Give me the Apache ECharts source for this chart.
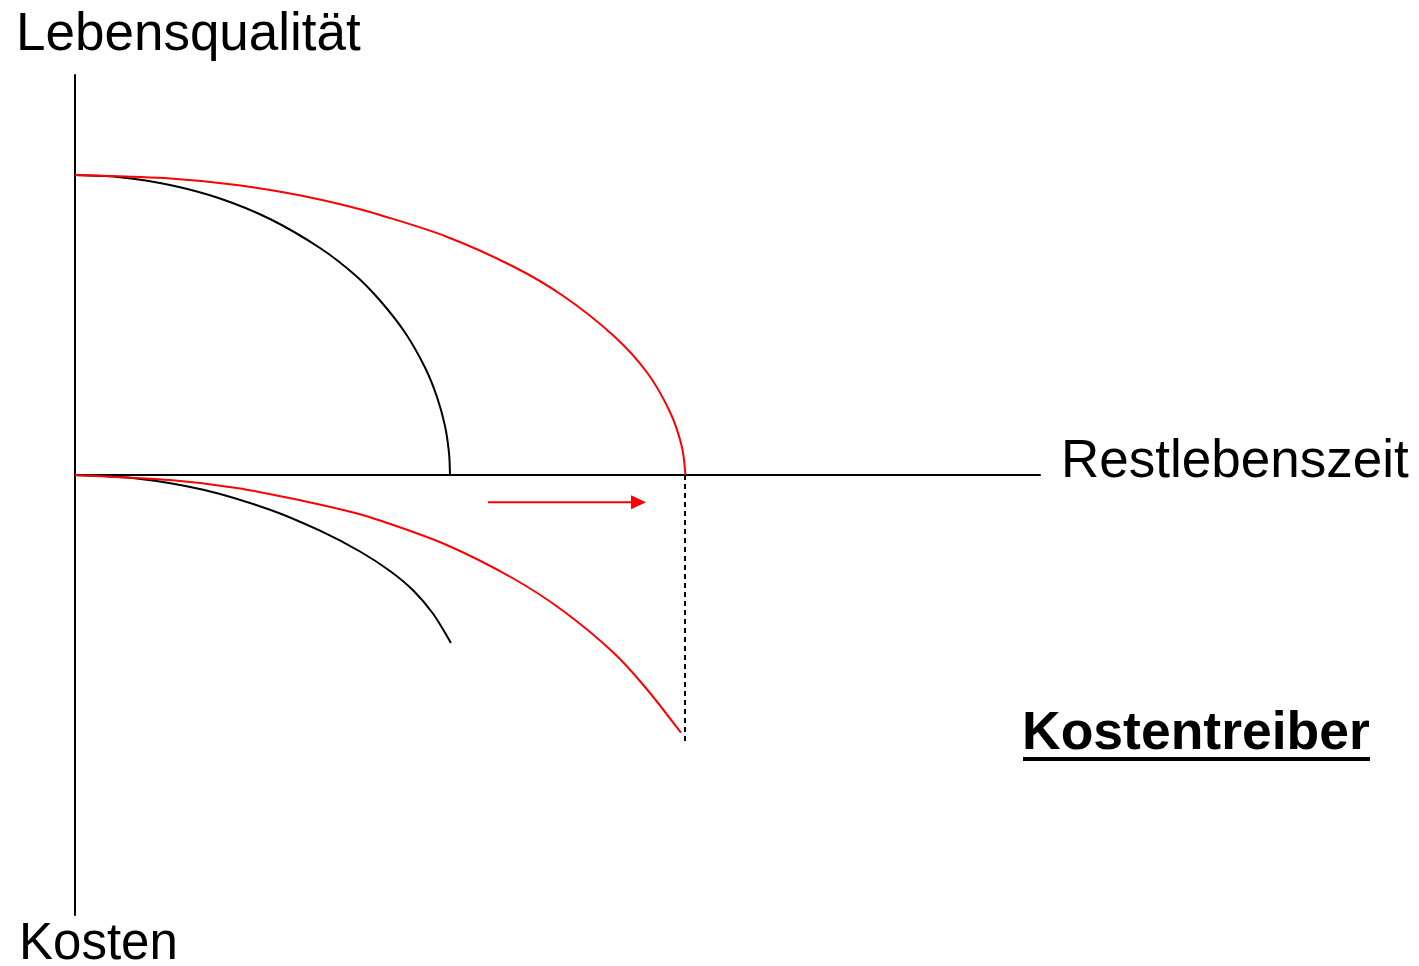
<!DOCTYPE html>
<html>
<head>
<meta charset="utf-8">
<script src="https://cdn.jsdelivr.net/npm/echarts@6/dist/echarts.min.js"></script>
<style>html,body{margin:0;padding:0;background:#fff;}#c{width:1419px;height:966px;}</style>
</head>
<body>
<div id="c"></div>
<script>
// Conceptual chart: x = Restlebenszeit, y>0 = Lebensqualität, y<0 = Kosten (arbitrary units)
const qualityBefore = [[0,300],[45,297.8],[95,290],[145,276.5],[195,256],[245,227],[280,200],[305,174.5],[330,142.5],[350,107.5],[362,78],[370,49],[374,22],[375,0]];
const qualityAfter = [[0,300],[95,296.5],[161.7,290],[228.3,279],[278.3,267.5],[305,260],[371.7,238.3],[438.3,208.5],[488.3,179],[538.3,139.5],[571.7,103],[595,63],[606.7,29],[610.5,0]];
const costBefore = [[0,0],[61.7,-3.4],[128.3,-14.7],[195,-34.7],[245,-55.7],[285,-76.5],[315,-96],[338.3,-115.5],[358.3,-139],[376,-168]];
const costAfter = [[0,0],[95,-5],[161.7,-13],[228.3,-26],[278.3,-37.5],[305,-45.5],[371.7,-70],[438.3,-103.5],[488.3,-136],[538.3,-177.5],[571.7,-214],[606,-257.7]];
const endMarker = [[610,0],[610,-268]];
const shiftArrow = [[413,-27.3],[563.5,-27.3]];
const axisNames = {y: 'Lebensqualität', x: 'Restlebenszeit', yNeg: 'Kosten', note: 'Kostentreiber'};

const chart = echarts.init(document.getElementById('c'));

// smooth curve through the data points (Catmull-Rom), positioned via the chart's own scales
function curveSeries(data, color) {
  return {
    type: 'custom', data: data, silent: true, z: 3,
    encode: {x: 0, y: 1},
    renderItem: function (params, api) {
      if (params.dataIndex !== 0) return null;
      const p = data.map(d => api.coord(d));
      const n = p.length;
      let d = 'M' + p[0][0] + ' ' + p[0][1];
      for (let i = 0; i < n - 1; i++) {
        const p0 = p[Math.max(i - 1, 0)], p1 = p[i], p2 = p[i + 1], p3 = p[Math.min(i + 2, n - 1)];
        const c1x = p1[0] + (p2[0] - p0[0]) / 6, c1y = p1[1] + (p2[1] - p0[1]) / 6;
        const c2x = p2[0] - (p3[0] - p1[0]) / 6, c2y = p2[1] - (p3[1] - p1[1]) / 6;
        d += ' C' + c1x + ' ' + c1y + ' ' + c2x + ' ' + c2y + ' ' + p2[0] + ' ' + p2[1];
      }
      return {type: 'path', shape: {pathData: d}, style: {stroke: color, lineWidth: 2, fill: null}};
    }
  };
}

chart.setOption({
  animation: false,
  backgroundColor: '#fff',
  grid: {left: 75, top: 75, width: 965, height: 840, containLabel: false},
  xAxis: {type: 'value', min: 0, max: 965,
    axisLine: {onZero: true, lineStyle: {color: '#000', width: 2}},
    axisTick: {show: false}, axisLabel: {show: false}, splitLine: {show: false}},
  yAxis: {type: 'value', min: -440, max: 400,
    axisLine: {show: true, onZero: true, lineStyle: {color: '#000', width: 2}},
    axisTick: {show: false}, axisLabel: {show: false}, splitLine: {show: false}},
  series: [
    curveSeries(qualityBefore, '#000'),
    curveSeries(qualityAfter, '#ff0000'),
    curveSeries(costBefore, '#000'),
    curveSeries(costAfter, '#ff0000'),
    {type: 'line', data: endMarker, symbol: 'none', silent: true, z: 2,
     lineStyle: {color: '#000', width: 2, type: [5, 4]}},
    {type: 'line', silent: true, smooth: false, z: 4,
     lineStyle: {color: '#ff0000', width: 2},
     data: [
       {value: shiftArrow[0], symbol: 'none'},
       {value: shiftArrow[1], symbol: 'triangle', symbolSize: [14, 15], symbolRotate: -90,
        itemStyle: {color: '#ff0000'}}
     ]}
  ],
  graphic: [
    {type: 'text', left: 16, top: 9, style: {text: axisNames.y, font: '53px "Liberation Sans", Arial, sans-serif', fill: '#000'}},
    {type: 'text', left: 1061, top: 436, style: {text: axisNames.x, font: '53px "Liberation Sans", Arial, sans-serif', fill: '#000'}},
    {type: 'text', left: 19, top: 919, style: {text: axisNames.yNeg, font: '51px "Liberation Sans", Arial, sans-serif', fill: '#000'}},
    {type: 'text', left: 1022, top: 707, style: {text: axisNames.note, font: 'bold 53.5px "Liberation Sans", Arial, sans-serif', fill: '#000'}},
    {type: 'rect', shape: {x: 1023, y: 757, width: 347, height: 4}, style: {fill: '#000'}}
  ]
});
</script>
</body>
</html>
